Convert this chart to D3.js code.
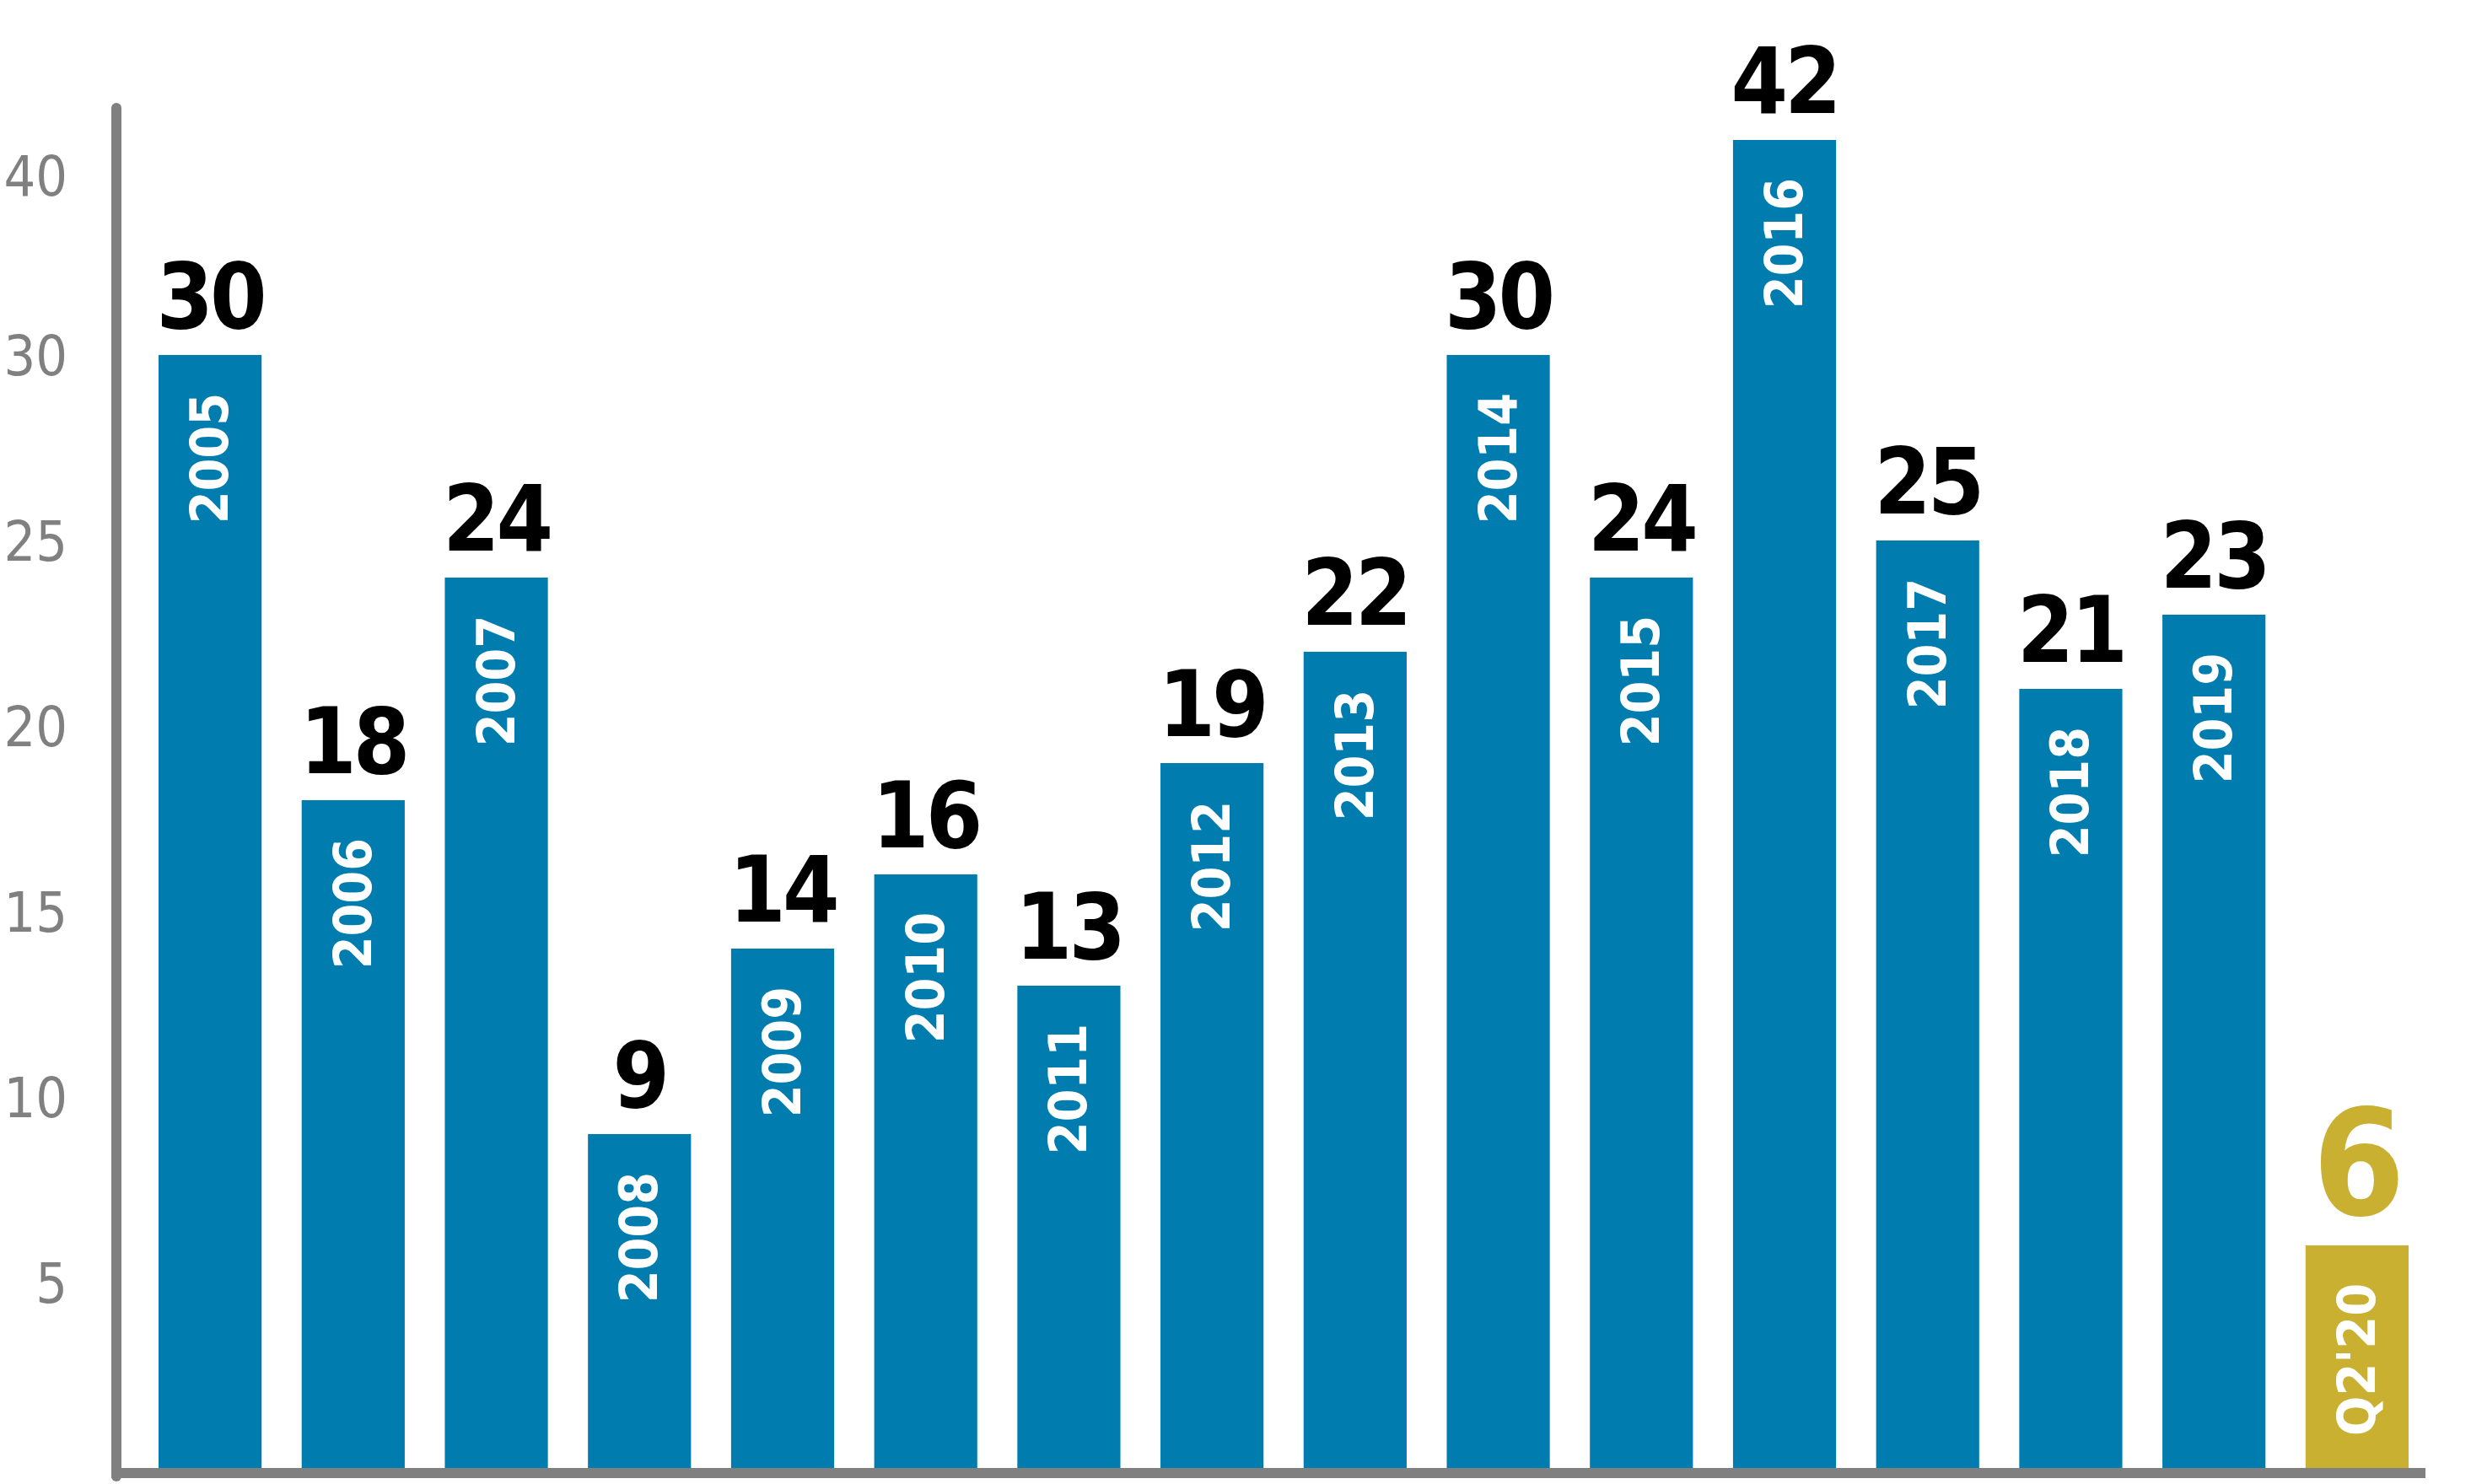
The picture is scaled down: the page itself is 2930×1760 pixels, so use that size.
<!DOCTYPE html>
<html>
<head>
<meta charset="utf-8">
<script src="https://cdn.jsdelivr.net/npm/d3@7"></script>
<style>
  body { margin: 0; background: #fff; }
  text { font-family: "DejaVu Sans Condensed", "Roboto Condensed", Roboto, sans-serif; }
</style>
</head>
<body>
<svg id="chart"></svg>
<script>
// Data
const years = ['2005', '2006', '2007', '2008', '2009', '2010', '2011', '2012',
  '2013', '2014', '2015', '2016', '2017', '2018', '2019', "Q2'20"];
const counts = [30, 18, 24, 9, 14, 16, 13, 19, 22, 30, 24, 42, 25, 21, 23, 6];
const tickValues = [5, 10, 15, 20, 25, 30, 40];

const width = 2930, height = 1760;
const baseY = 1741;

const svg = d3.select('#chart').attr('width', width).attr('height', height);

// Horizontal band scale for the bars
const x = d3.scaleBand()
  .domain(years)
  .range([188, 2856])
  .paddingInner(0.28)
  .paddingOuter(0);

// The artwork is not drawn to a linear scale, so use a piecewise one
const y = d3.scaleLinear()
  .domain([0, 30, 42])
  .range([baseY, 421, 166]);

const isLast = (d, i) => i === years.length - 1;
const barColor = (d, i) => isLast(d, i) ? '#C9B030' : '#007DAE';

const rows = years.map((yr, i) => ({ yr, v: counts[i], i }));

// Bars
svg.selectAll('rect.bar').data(rows).join('rect')
  .attr('class', 'bar')
  .attr('x', d => x(d.yr))
  .attr('y', d => y(d.v))
  .attr('width', x.bandwidth())
  .attr('height', d => baseY - y(d.v))
  .attr('fill', d => barColor(d, d.i));

// Value labels above bars
svg.selectAll('text.val').data(rows).join('text')
  .attr('class', 'val')
  .attr('x', d => x(d.yr) + x.bandwidth() / 2)
  .attr('y', d => y(d.v) - (isLast(d, d.i) ? 36 : 32))
  .attr('text-anchor', 'middle')
  .attr('font-weight', 'bold')
  .attr('font-size', d => isLast(d, d.i) ? 175 : 108)
  .attr('letter-spacing', -4)
  .attr('fill', d => isLast(d, d.i) ? '#C9B030' : '#000')
  .text(d => d.v);

// Year labels, rotated, inside bars
svg.selectAll('text.yr').data(rows).join('text')
  .attr('class', 'yr')
  .attr('transform', d => `translate(${x(d.yr) + x.bandwidth() / 2 + 21},${y(d.v) + 45}) rotate(-90)`)
  .attr('text-anchor', 'end')
  .attr('font-weight', 'bold')
  .attr('font-size', 62)
  .attr('fill', '#fff')
  .text(d => d.yr);

// Axis lines
svg.append('line')
  .attr('x1', 138).attr('x2', 138).attr('y1', 128).attr('y2', baseY + 10)
  .attr('stroke', '#808080').attr('stroke-width', 12).attr('stroke-linecap', 'round');
svg.append('line')
  .attr('x1', 132).attr('x2', 2876).attr('y1', baseY + 6).attr('y2', baseY + 6)
  .attr('stroke', '#808080').attr('stroke-width', 12);

// Tick labels
svg.selectAll('text.tick').data(tickValues).join('text')
  .attr('class', 'tick')
  .attr('x', 80)
  .attr('y', d => y(d))
  .attr('dy', '0.36em')
  .attr('text-anchor', 'end')
  .attr('font-weight', 200)
  .attr('font-size', 66)
  .attr('fill', '#808080')
  .text(d => d);
</script>
</body>
</html>
